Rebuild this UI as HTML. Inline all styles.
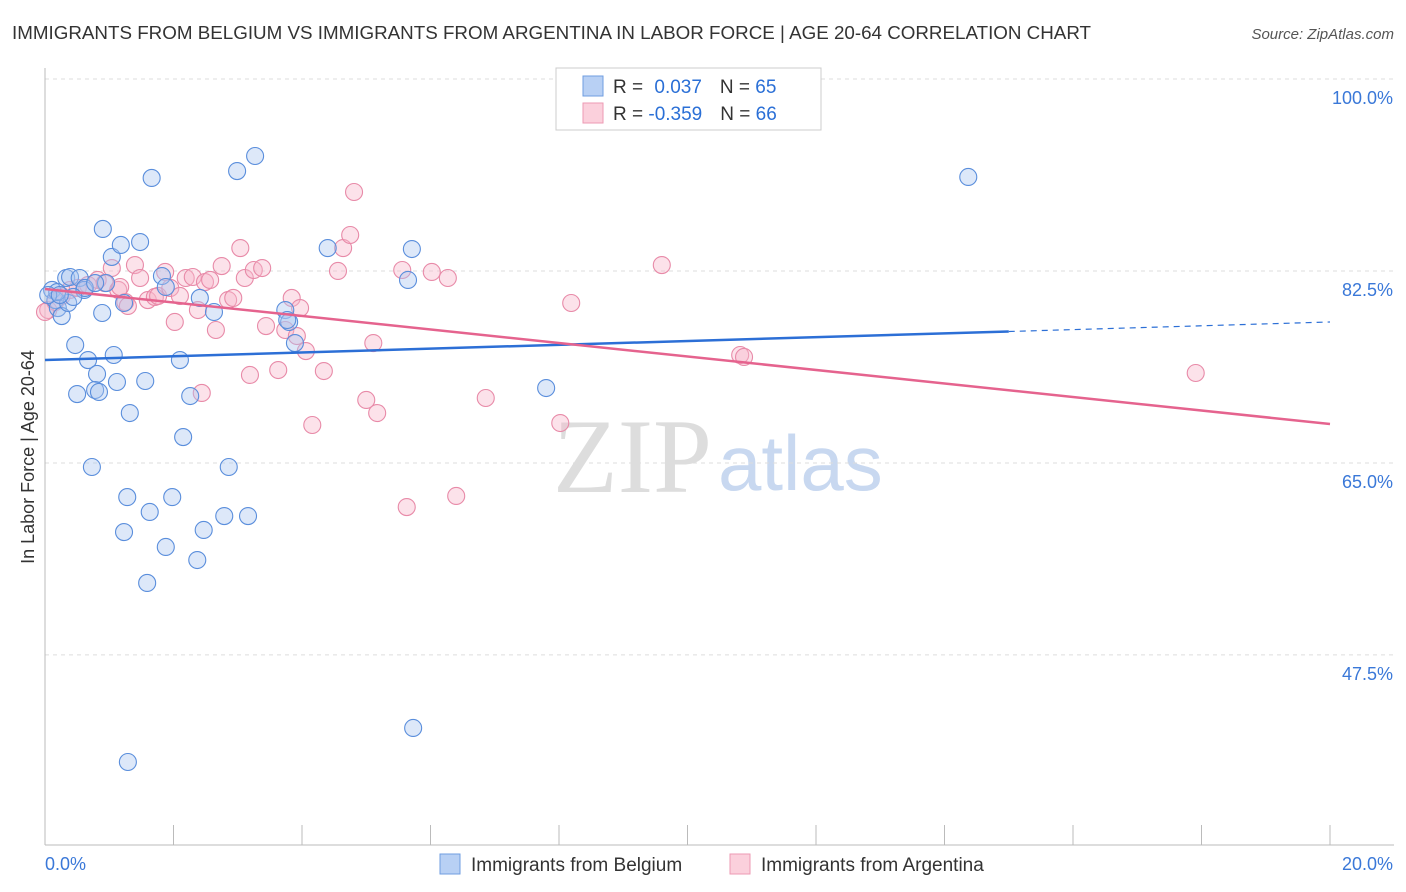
<!DOCTYPE html>
<html><head><meta charset="utf-8"><style>
body{margin:0;background:#fff;font-family:"Liberation Sans",sans-serif;}
svg{display:block}
</style></head><body>
<svg id="chart" width="1406" height="892">
<text x="12" y="39" font-size="18.8" fill="#333">IMMIGRANTS FROM BELGIUM VS IMMIGRANTS FROM ARGENTINA IN LABOR FORCE | AGE 20-64 CORRELATION CHART</text>
<text x="1394" y="39" font-size="15" fill="#555" font-style="italic" text-anchor="end">Source: ZipAtlas.com</text>
<text x="553" y="492" font-size="106" fill="#ddd" font-family="Liberation Serif,serif">ZIP</text>
<text x="718" y="490" font-size="78" fill="#c8d8f0">atlas</text>
<g id="grid"></g><g id="axes"></g><g id="marks"></g>
<text transform="translate(34,457) rotate(-90)" font-size="18" fill="#333" text-anchor="middle">In Labor Force | Age 20-64</text>
<g>
<rect x="556" y="68" width="265" height="62" fill="#fff" stroke="#ccc"/>
<rect x="583" y="76" width="20" height="20" fill="#b8d0f4" stroke="#6f9ee0"/>
<rect x="583" y="103" width="20" height="20" fill="#fbd0dc" stroke="#ec9ab3"/>
<text x="613" y="93" font-size="19" fill="#333">R = <tspan fill="#2a6fd6" dx="6">0.037</tspan><tspan fill="#333" dx="18">N = </tspan><tspan fill="#2a6fd6">65</tspan></text>
<text x="613" y="120" font-size="19" fill="#333">R = <tspan fill="#2a6fd6">-0.359</tspan><tspan fill="#333" dx="18">N = </tspan><tspan fill="#2a6fd6">66</tspan></text>
</g>
<g>
<rect x="440" y="854" width="20" height="20" fill="#b8d0f4" stroke="#6f9ee0"/>
<text x="471" y="871" font-size="19" fill="#333">Immigrants from Belgium</text>
<rect x="730" y="854" width="20" height="20" fill="#fbd0dc" stroke="#ec9ab3"/>
<text x="761" y="871" font-size="19" fill="#333">Immigrants from Argentina</text>
</g>
</svg>
<script>
const yTicks=[100,82.5,65,47.5];
const yTickLabels=["100.0%","82.5%","65.0%","47.5%"];
const xTickLabels=["0.0%","20.0%"];
const belgiumX=[.11,.16,.20,.26,.36,.33,.39,.54,.61,.47,.67,.81,.78,.84,.50,.73,.89,.90,1.04,1.07,1.12,1.18,1.23,1.32,1.48,1.56,1.66,1.28,1.23,1.63,1.88,1.98,1.59,1.82,1.88,2.10,2.15,2.26,2.37,2.41,2.47,2.63,2.79,2.86,2.99,3.16,3.27,3.74,3.80,3.89,4.40,5.71,5.65,7.80,5.73,1.29,14.37,.95,.19,.05,.62,.44,.78,.23,3.77];
const belgiumY=[80.77,79.85,79.12,78.39,79.58,81.86,81.95,81.86,80.77,75.75,74.38,73.11,71.65,71.47,71.28,64.63,78.67,86.33,83.78,74.84,72.38,84.87,79.58,69.55,85.14,72.47,90.98,61.89,58.70,60.53,57.34,61.89,54.06,82.04,81.04,74.38,67.36,71.10,56.15,80.04,58.89,78.76,60.16,64.63,91.61,60.16,92.98,78.94,77.85,75.93,84.59,84.50,81.68,71.83,40.84,37.74,91.07,81.40,80.58,80.31,80.95,80.13,81.40,80.31,78.03];
const argentinaX=[.05,.16,.26,.39,.51,.67,.82,.93,1.04,1.14,1.25,1.29,1.40,1.48,1.60,1.71,1.76,1.87,1.95,2.02,2.10,2.19,2.30,2.38,2.49,2.57,2.66,2.75,2.85,2.93,3.04,3.11,3.19,3.25,3.38,3.44,3.63,3.74,3.84,3.92,3.97,4.06,4.16,4.34,4.56,4.64,4.75,4.81,5.00,5.11,5.17,5.56,5.63,6.02,6.27,6.40,6.86,8.02,8.19,9.60,10.82,10.88,17.91,2.44,0.0,1.17];
const argentinaY=[78.94,79.67,80.22,80.77,80.95,81.22,81.68,81.40,82.77,80.77,79.67,79.31,83.04,81.86,79.85,80.13,80.22,82.41,80.95,77.85,80.22,81.86,81.95,78.94,81.49,81.68,77.12,82.95,79.85,80.04,84.59,81.86,73.02,82.59,82.77,77.48,73.47,77.12,80.04,76.57,79.12,75.20,68.46,73.38,82.50,84.59,85.78,89.70,70.74,75.93,69.55,82.59,60.98,82.41,81.86,61.99,70.92,68.64,79.58,83.04,74.84,74.66,73.20,71.38,78.76,81.04];
const belgiumTrend=[74.38,77.85];
const argentinaTrend=[80.86,68.55];
const NS="http://www.w3.org/2000/svg";
const sx=v=>45+v*64.25;
const sy=v=>79+(100-v)*10.97;
function mk(tag,attrs,parent){const e=document.createElementNS(NS,tag);for(const k in attrs)e.setAttribute(k,attrs[k]);parent.appendChild(e);return e;}
const grid=document.getElementById('grid'),axes=document.getElementById('axes'),marks=document.getElementById('marks');
yTicks.forEach((t,i)=>{
 const l=mk('line',{x1:45,x2:1394,y1:sy(t),y2:sy(t),stroke:'#ddd','stroke-dasharray':'4,4'},grid);
 
 
 const tx=mk('text',{x:1393,y:sy(t)+25,'font-size':18,fill:'#3a78d8','text-anchor':'end'},axes);
 tx.textContent=yTickLabels[i];
 
 
});
mk('line',{x1:45,x2:45,y1:68,y2:845,stroke:'#bbb'},axes);
mk('line',{x1:45,x2:1394,y1:845,y2:845,stroke:'#bbb'},axes);
for(let i=0;i<=10;i++){mk('line',{x1:sx(i*2),x2:sx(i*2),y1:825,y2:845,stroke:'#bbb'},axes);}
[[0,'start',45],[1,'end',1393]].forEach(([i,a,x])=>{const t=mk('text',{x:x,y:870,'font-size':18,fill:'#3a78d8','text-anchor':a},axes);t.textContent=xTickLabels[i];

});
function dots(X,Y,fill,stroke,name){X.forEach((x,i)=>{const c=mk('circle',{cx:sx(x),cy:sy(Y[i]),r:8.5,fill:fill,'fill-opacity':0.4,stroke:stroke,'stroke-width':1.1},marks);

});}
dots(argentinaX,argentinaY,'#f7b6ca','#e88aa8','argentina-point');
dots(belgiumX,belgiumY,'#a9c6f0','#5a8edc','belgium-point');
const bt=v=>belgiumTrend[0]+(belgiumTrend[1]-belgiumTrend[0])*v/20;
const b1=mk('line',{x1:sx(0),y1:sy(bt(0)),x2:sx(15),y2:sy(bt(15)),stroke:'#2c6fd6','stroke-width':2.5},marks);


const b2=mk('line',{x1:sx(15),y1:sy(bt(15)),x2:sx(20),y2:sy(bt(20)),stroke:'#2c6fd6','stroke-width':1.2,'stroke-dasharray':'6,5'},marks);


const p1=mk('line',{x1:sx(0),y1:sy(argentinaTrend[0]),x2:sx(20),y2:sy(argentinaTrend[1]),stroke:'#e5638e','stroke-width':2.5},marks);


</script>
</body></html>
